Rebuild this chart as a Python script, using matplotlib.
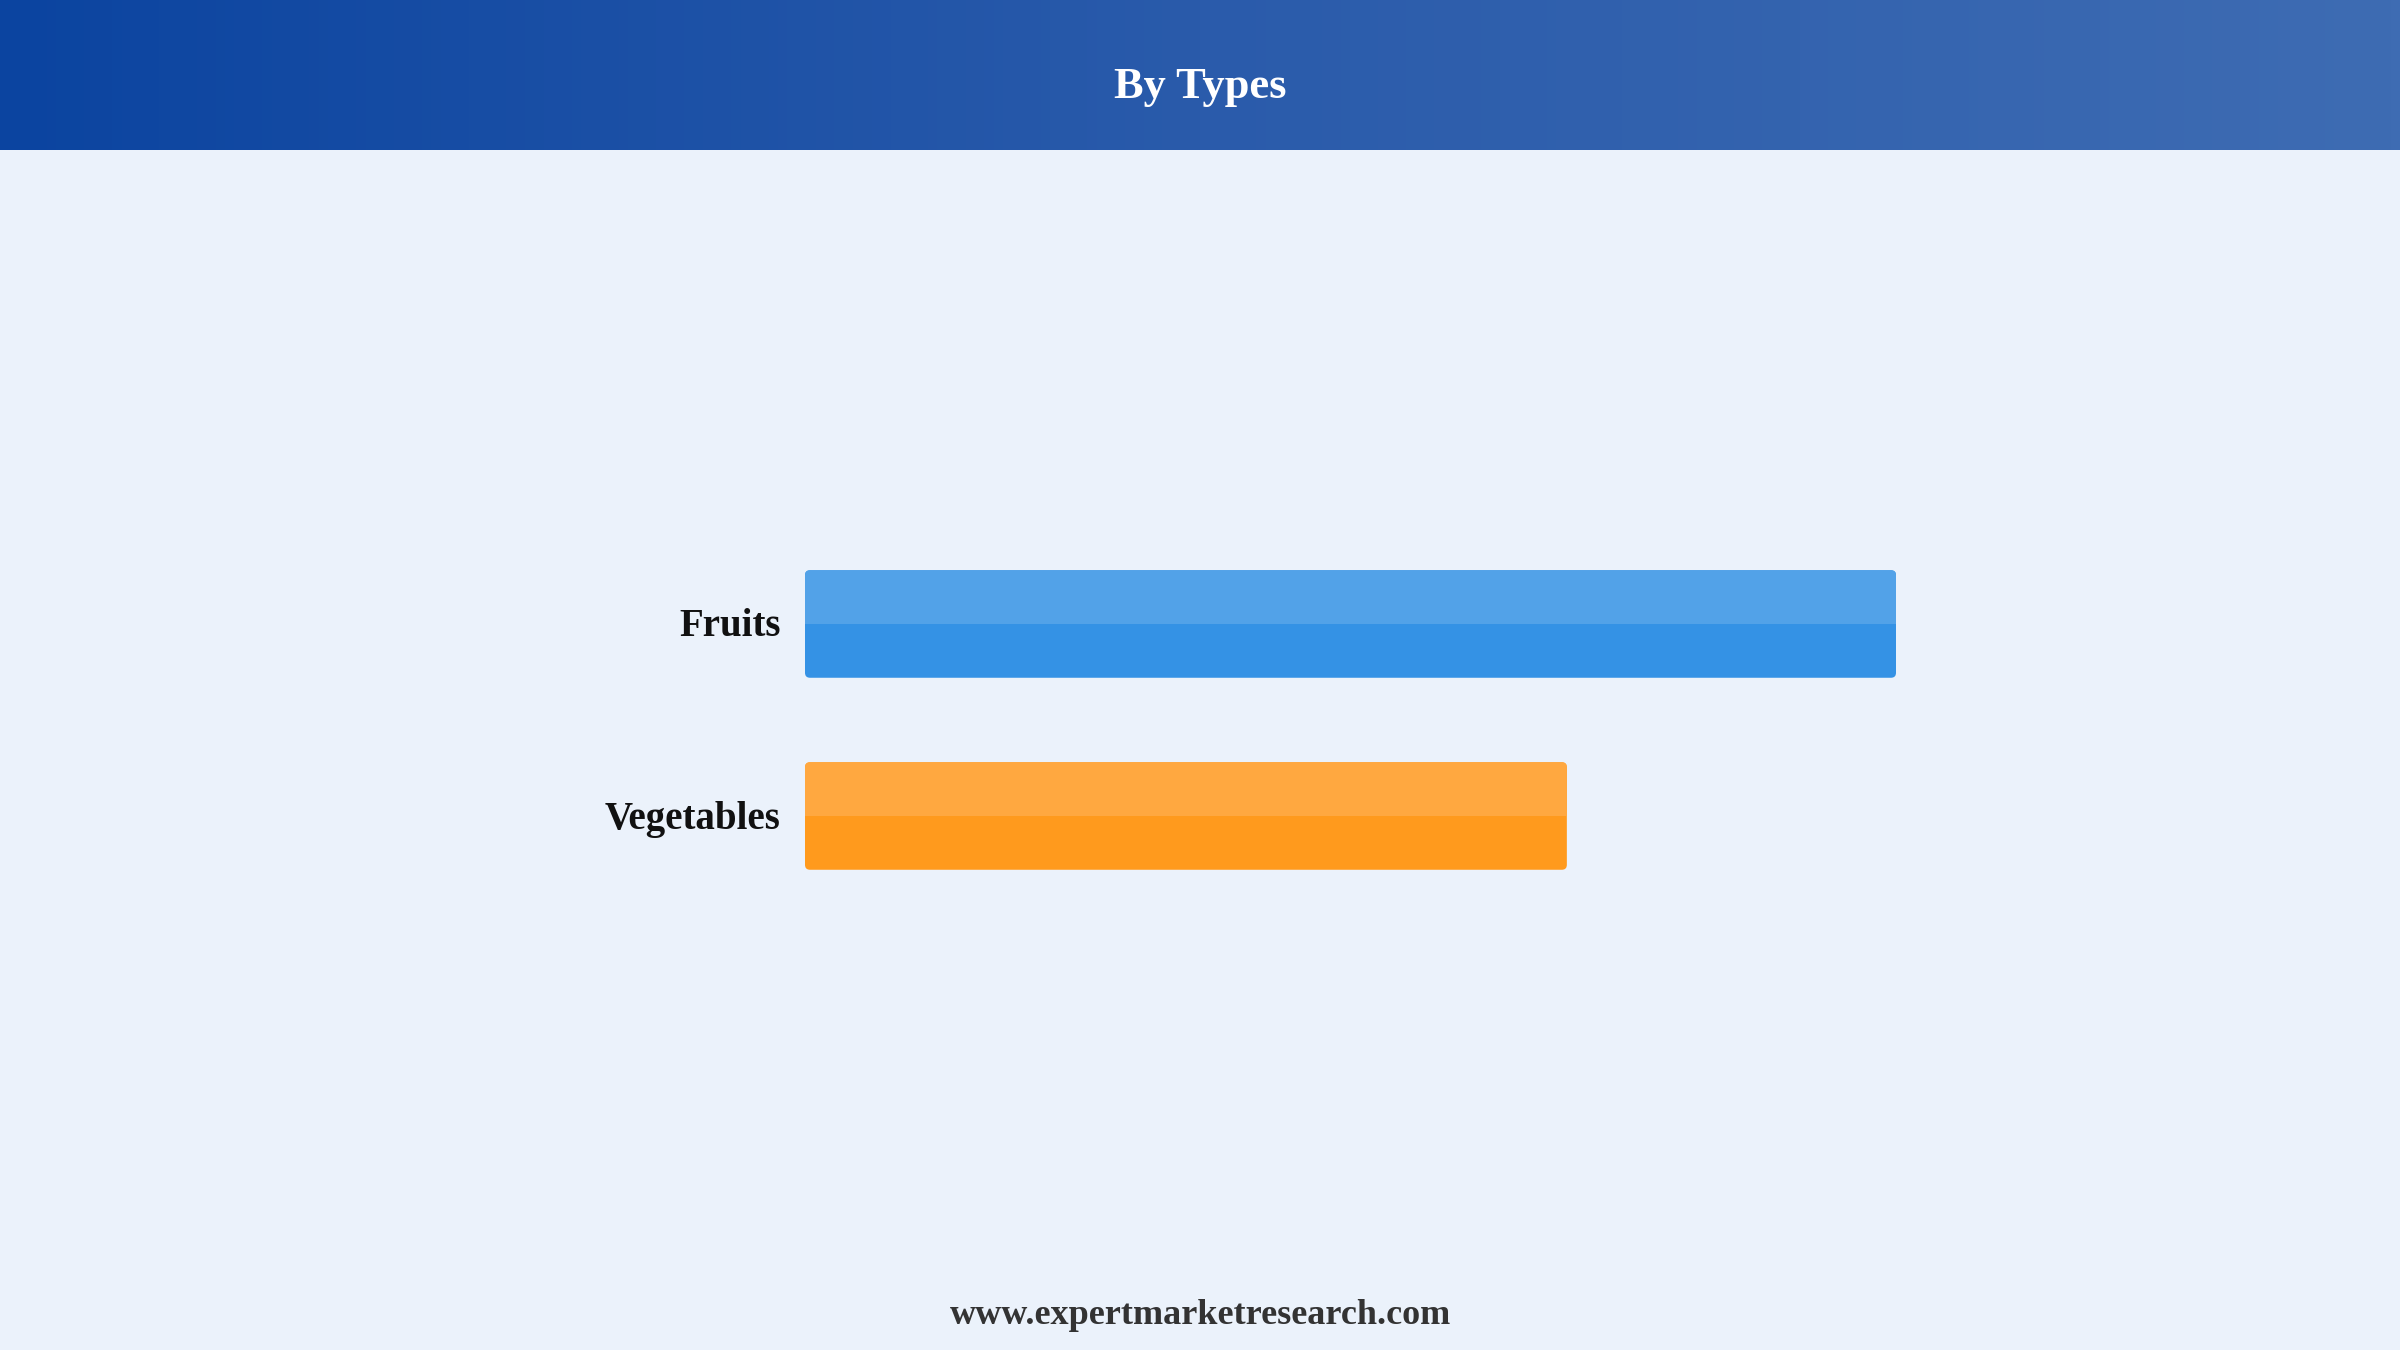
import numpy as np
import matplotlib.pyplot as plt
from matplotlib.colors import LinearSegmentedColormap
from matplotlib.patches import FancyBboxPatch

# data
categories = ['Fruits', 'Vegetables']
values = [59, 41.2]
colors_top = ['#52a2e8', '#ffa840']
colors_bottom = ['#3492e5', '#ff9a1d']

title = 'By Types'
footer = 'www.expertmarketresearch.com'

W, H = 2400, 1350
DPI = 200
bg = '#ebf2fb'
serif = ['Liberation Serif', 'DejaVu Serif']

fig = plt.figure(figsize=(W / DPI, H / DPI), dpi=DPI, facecolor=bg)

# header band with horizontal gradient
head_h = 150 / H
hax = fig.add_axes([0, 1 - head_h, 1, head_h])
cmap = LinearSegmentedColormap.from_list('hdr', ['#0b44a0', '#2a5bab', '#3e6cb3'])
hax.imshow(np.linspace(0, 1, 256)[None, :], aspect='auto', cmap=cmap, extent=[0, 1, 0, 1])
hax.set_axis_off()
hax.text(0.5, 0.42, title, ha='center', va='center', color='white',
         fontsize=16, fontweight='bold', family=serif)

# bar axes: left edge at bar start, full figure height
x0, x1 = 805, 1896
ax = fig.add_axes([x0 / W, 0, (x1 - x0) / W, 1])
ax.set_facecolor('none')
ax.set_xlim(0, max(values))
y_first, step = 624, 192
ax.set_ylim((H - y_first) / step, -y_first / step)
ax.set_axis_off()

ypos = np.arange(len(categories))
bar_h = 0.56
bars = ax.barh(ypos, values, height=bar_h, color=colors_bottom)

# px -> data scale for rounded corners
px_x = max(values) / (x1 - x0)
px_y = 1 / step
r = 5
for b, ct, cb, lab in zip(bars, colors_top, colors_bottom, categories):
    x, y, w, h = b.get_x(), b.get_y(), b.get_width(), b.get_height()
    b.set_visible(False)
    ax.add_patch(FancyBboxPatch((x, y), w, h,
                                boxstyle=f'round,pad=0,rounding_size={r * px_x}',
                                mutation_aspect=px_y / px_x, fc=cb, ec='none'))
    # lighter upper half
    ax.add_patch(FancyBboxPatch((x, y), w, h / 2,
                                boxstyle=f'round,pad=0,rounding_size={r * px_x}',
                                mutation_aspect=px_y / px_x, fc=ct, ec='none'))
    ax.add_patch(plt.Rectangle((x, y + h / 2 - 6 * px_y), w, 6 * px_y, fc=ct, ec='none'))
    ax.text(x - 24 * px_x, y + h / 2 + 3 * px_y, lab, ha='right', va='center', fontsize=14,
            fontweight='bold', color='#111111', family=serif)

fig.text(0.5, 1 - 1315 / H, footer, ha='center', va='center', fontsize=13,
         fontweight='bold', color='#333333', family=serif)

fig.savefig('out.png', dpi=DPI, facecolor=bg)
